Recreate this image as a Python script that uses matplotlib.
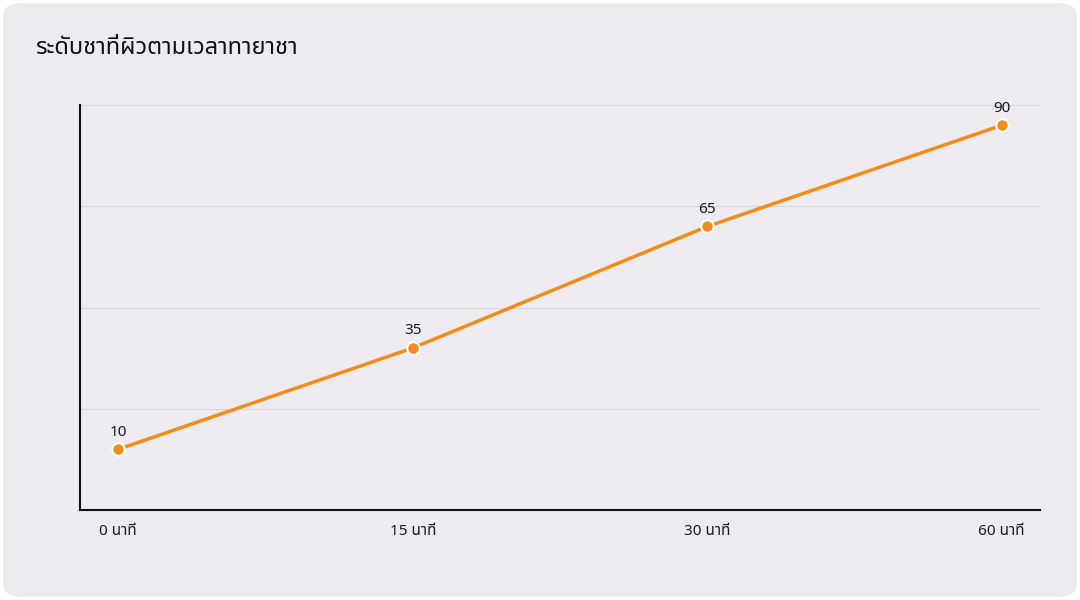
import matplotlib
matplotlib.use("Agg")
import matplotlib.pyplot as plt
from matplotlib.patches import FancyBboxPatch

plt.rcParams['font.family'] = ['Noto Sans Thai', 'Noto Sans', 'DejaVu Sans']

categories = ["0 นาที", "15 นาที", "30 นาที", "60 นาที"]
values = [10, 35, 65, 90]
title = "ระดับชาที่ผิวตามเวลาทายาชา"

fig = plt.figure(figsize=(10.8, 6.0), dpi=100)
fig.patch.set_facecolor("white")
card = FancyBboxPatch((0.003, 0.005), 0.994, 0.99, boxstyle="round,pad=0,rounding_size=0.02",
                      transform=fig.transFigure, facecolor="#EDEBF0", edgecolor="none", zorder=-10)
fig.patches.append(card)

ax = fig.add_axes([80/1080, 90/600, 960/1080, 405/600])
ax.set_zorder(5)
ax.set_facecolor("none")
x = list(range(len(categories)))
ax.plot(x, values, color="#F28C1A", lw=2.5, marker="o", ms=9, mfc="#F28C1A", mec="white", mew=1.5, zorder=3)
for xi, v in zip(x, values):
    ax.annotate(str(v), (xi, v), xytext=(0, 7), textcoords="offset points", ha="center", va="bottom",
                fontsize=11, fontweight="bold", color="#1a1a1a")
ax.set_xlim(-0.13, 3.13)
ax.set_ylim(-5, 95)
ax.set_yticks([20, 45, 70, 95])
ax.yaxis.grid(True, color="#D8D6DC", lw=0.8)
ax.tick_params(axis="y", length=0, labelleft=False)
ax.set_xticks(x)
ax.set_xticklabels(categories, fontsize=11, fontweight="bold", color="#1a1a1a")
ax.tick_params(axis="x", length=0, pad=10)
for s in ["top", "right"]:
    ax.spines[s].set_visible(False)
ax.spines["left"].set_color("#111111")
ax.spines["bottom"].set_color("#111111")
ax.spines["left"].set_linewidth(1.5)
ax.spines["bottom"].set_linewidth(1.5)

fig.text(35/1080, 1-48/600, title, fontsize=17, fontweight="bold", color="#111111", va="center", zorder=10)
fig.savefig("out.png", dpi=100, facecolor=fig.get_facecolor())
